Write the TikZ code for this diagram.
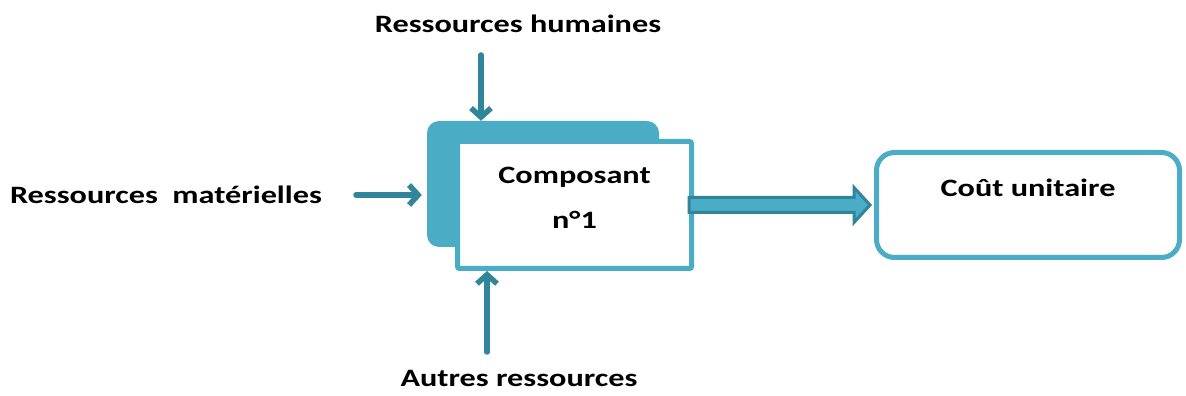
\documentclass[tikz,border=0pt]{standalone}
\usepackage{fontspec}
\setmainfont{Carlito}[FakeStretch=1.29]
\usetikzlibrary{arrows.meta,positioning,calc}
\definecolor{tealfill}{RGB}{75,172,198}
\definecolor{tealdark}{RGB}{49,133,155}

\begin{document}
\begin{tikzpicture}[x=1pt,y=1pt,font=\bfseries\fontsize{25}{45}\selectfont,
    entree/.style={draw=tealdark, line width=5.5pt, line cap=round,
      -{Straight Barb[length=9pt,width=20pt]}},
    fleche/.style={draw=tealdark, fill=tealfill, line width=3pt, line join=miter}]
  \useasboundingbox (0,0) rectangle (1186,396);
  \node[rectangle, fill=tealfill, rounded corners=12pt, minimum width=232pt, minimum height=126pt] (fond) at (543,212) {};
  \node[rectangle, draw=tealfill, fill=white, line width=5pt, rounded corners=2pt, minimum width=234pt, minimum height=127pt, align=center, text height=60pt, text depth=12pt] (comp) at (574.5,191) {Composant\\n°1};
  \node[rectangle, draw=tealfill, fill=white, line width=5pt, rounded corners=18pt, minimum width=303pt, minimum height=105pt, text height=18pt, text depth=34pt] (cout) at (1028,191) {Coût unitaire};

  \node (rhum) at (518,372) {Ressources humaines};
  \node (rmat) at (166,201) {Ressources\ \ matérielles};
  \node (autres) at (519,18) {Autres ressources};

  \coordinate (hin) at (481,341);
  \coordinate (min) at (356,201);
  \coordinate (ain) at (487,44);
  \draw[entree] (hin) -- (hin |- fond.north);
  \draw[entree] (min) -- ([xshift=-5pt]min -| fond.west);
  \draw[entree] (ain) -- (ain |- comp.south);

  \coordinate (a) at ([xshift=-5pt]comp.east);
  \coordinate (b) at ([xshift=-4pt]cout.west);
  \draw[fleche] ($(a)+(0,7.5)$) -- ($(b)+(-16,7.5)$) -- ($(b)+(-16,17.5)$) -- (b)
    -- ($(b)+(-16,-17.5)$) -- ($(b)+(-16,-7.5)$) -- ($(a)+(0,-7.5)$) -- cycle;
\end{tikzpicture}
\end{document}
